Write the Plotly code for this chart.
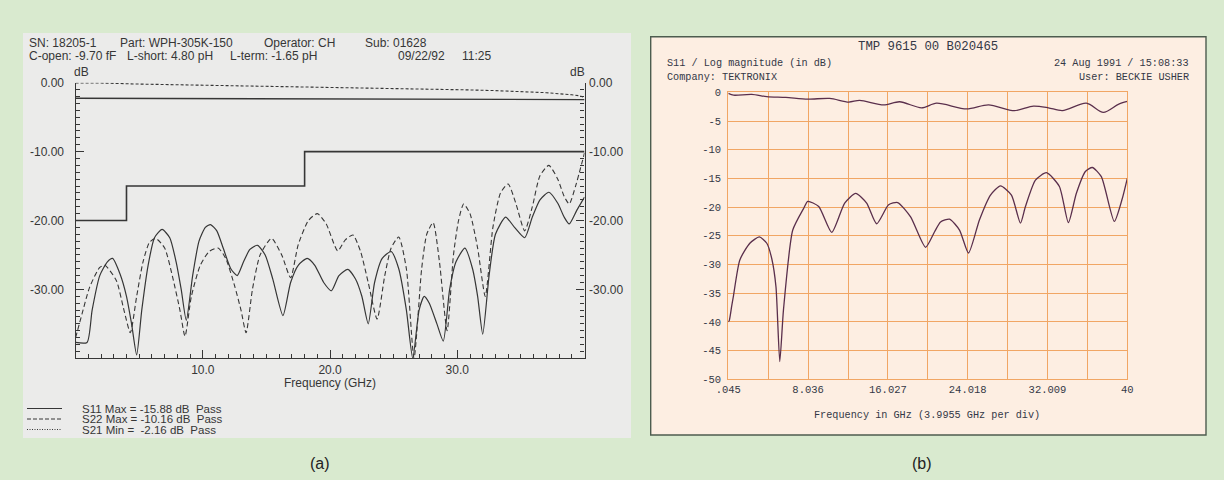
import plotly.graph_objects as go

W, H = 1224, 480

# ---------------- Panel (a) data ----------------
a_s11_freq = [0.0, 0.9, 1.3, 1.9, 2.5, 2.9, 3.5, 4.0, 4.4, 4.8, 5.2, 5.7, 6.2, 6.8, 7.4, 7.9, 8.3, 8.7,
              9.2, 9.7, 10.2, 10.6, 11.1, 11.6, 12.2, 12.7, 13.2, 13.7, 14.3, 14.9, 15.5, 16.3, 16.9,
              17.5, 18.2, 18.8, 19.5, 20.1, 20.7, 21.4, 22.0, 22.5, 23.0, 23.5, 24.1, 24.8, 25.4,
              26.0, 26.5, 27.0, 27.4, 27.8, 28.4, 28.9, 29.4, 29.9, 30.6, 31.2, 31.6, 32.0, 32.5,
              33.0, 33.8, 34.5, 35.3, 35.9, 36.5, 37.2, 37.9, 38.4, 38.8, 39.4, 40.0]
a_s11_db = [-37.7, -37.7, -33.0, -28.0, -26.0, -25.5, -27.8, -31.0, -35.0, -39.5, -33.0, -26.5, -22.5,
            -21.3, -22.5, -26.0, -30.0, -34.5, -28.0, -23.0, -21.0, -20.6, -21.5, -24.0, -27.0, -28.0,
            -26.0, -24.2, -23.6, -25.0, -28.5, -33.8, -29.0, -26.5, -25.5, -26.5, -29.0, -30.2, -28.0,
            -27.1, -28.5, -31.0, -35.0, -29.0, -25.5, -24.5, -27.0, -33.0, -40.0, -33.0, -31.0, -32.0,
            -35.0, -37.5, -30.0, -26.0, -24.0, -27.0, -31.0, -36.5, -28.0, -22.0, -19.5, -21.0, -22.5,
            -19.5, -17.0, -15.9, -17.5, -19.5, -20.5, -18.5, -16.6]

a_s22_freq = [0.0, 0.5, 1.1, 1.9, 2.3, 3.2, 3.8, 4.3, 4.8, 5.3, 5.8, 6.3, 7.0, 7.6, 8.2, 8.6, 9.1, 9.8,
              10.5, 11.2, 11.8, 12.5, 13.0, 13.4, 13.9, 14.5, 15.4, 16.2, 16.9, 17.5, 18.3, 19.0, 19.7,
              20.6, 21.2, 21.8, 22.4, 23.0, 23.7, 24.3, 24.8, 25.4, 26.0, 26.6, 27.2, 27.6, 28.1, 28.6,
              29.2, 29.7, 30.1, 30.5, 31.0, 31.6, 32.2, 32.8, 33.4, 34.0, 34.6, 35.3, 35.9, 36.5, 37.2,
              37.9, 38.4, 38.8, 39.3, 40.0]
a_s22_db = [-37.0, -33.6, -29.7, -26.8, -26.5, -28.7, -33.0, -36.3, -31.0, -26.0, -23.2, -22.6, -24.0,
            -28.0, -33.0, -36.8, -31.0, -26.5, -24.5, -24.0, -25.5, -29.5, -33.0, -36.3, -30.0, -25.0,
            -22.6, -25.0, -28.3, -23.5, -20.0, -19.0, -20.5, -24.4, -22.8, -22.1, -24.5, -29.0, -34.3,
            -28.0, -24.0, -22.4, -27.0, -40.0, -27.0, -22.0, -20.3, -26.0, -36.0, -25.0, -20.0, -17.6,
            -19.0, -24.0, -31.0, -21.0, -16.0, -14.7, -17.5, -21.5, -18.0, -13.5, -12.0, -14.0, -16.5,
            -17.6, -15.0, -10.2]

a_s21_freq = [0.0, 2.0, 5.0, 10.0, 15.0, 20.0, 24.0, 28.0, 31.0, 33.0, 35.0, 37.0, 39.0, 39.6, 40.0]
a_s21_db = [-0.05, -0.05, -0.2, -0.35, -0.5, -0.65, -0.8, -0.95, -1.05, -1.15, -1.25, -1.45, -1.75,
            -1.9, -2.16]

a_mask_freq = [0, 4, 18, 40]
a_mask_db = [-20, -15, -10, -10]
a_s21_mask_freq = [0, 40]
a_s21_mask_db = [-2.25, -2.45]

a_xtick_vals = [10, 20, 30]
a_xtick_text = ["10.0", "20.0", "30.0"]
a_ytick_vals = [0, -10, -20, -30]
a_ytick_text = ["0.00", "-10.00", "-20.00", "-30.00"]

a_header_1 = ["SN: 18205-1", "Part: WPH-305K-150", "Operator: CH", "Sub: 01628"]
a_header_2 = ["C-open: -9.70 fF", "L-short: 4.80 pH", "L-term: -1.65 pH", "09/22/92", "11:25"]
a_legend = ["S11 Max = -15.88 dB  Pass", "S22 Max = -10.16 dB  Pass", "S21 Min =  -2.16 dB  Pass"]
a_legend_dash = ["solid", "4px,2px", "1px,1.5px"]

# ---------------- Panel (b) data ----------------
b_top_freq = [0.045, 0.58, 2.4, 3.9, 5.8, 8.0, 10.2, 12.1, 13.2, 15.6, 17.2, 19.4, 20.9, 23.9, 26.1,
              28.7, 30.6, 32.1, 33.5, 35.9, 37.6, 39.1, 40.0]
b_top_db = [-0.2, -0.5, -0.35, -0.76, -0.9, -1.2, -1.06, -1.7, -1.4, -2.2, -1.65, -2.7, -1.9, -2.9,
            -2.2, -3.2, -2.4, -2.7, -3.2, -1.9, -3.5, -2.1, -1.6]

b_s11_freq = [0.045, 0.15, 0.38, 0.55, 1.2, 2.2, 3.15, 3.9, 4.4, 4.82, 5.2, 5.57, 6.5, 7.6, 8.0, 9.1,
              10.4, 11.7, 12.8, 13.9, 14.9, 16.1, 17.0, 18.3, 19.8, 20.7, 21.3, 22.2, 23.2, 24.1, 25.2,
              26.3, 27.3, 28.4, 29.3, 29.8, 30.8, 31.9, 33.2, 34.1, 34.9, 35.8, 36.5, 37.4, 38.7,
              39.5, 40.0]
b_s11_db = [-40.0, -39.7, -37.3, -35.6, -29.2, -26.3, -25.2, -26.3, -29.0, -33.9, -46.9, -37.9, -24.0,
            -20.2, -19.0, -19.9, -24.4, -19.3, -17.6, -19.3, -22.9, -19.6, -19.2, -21.7, -27.0, -24.3,
            -22.6, -22.1, -24.0, -28.0, -22.2, -17.9, -16.3, -17.9, -22.8, -19.9, -15.3, -14.0, -16.4,
            -22.7, -17.6, -13.8, -13.1, -14.7, -22.5, -18.5, -15.0]

b_xtick_vals = [0.045, 8.036, 16.027, 24.018, 32.009, 40]
b_xtick_text = [".045", "8.036", "16.027", "24.018", "32.009", "40"]
b_ytick_vals = [0, -5, -10, -15, -20, -25, -30, -35, -40, -45, -50]
b_ytick_text = ["0", "-5", "-10", "-15", "-20", "-25", "-30", "-35", "-40", "-45", "-50"]

# ---------------- styling ----------------
GREEN = "#d9eacf"
GREY_PANEL = "#ebebea"
PEACH = "#fdeee2"
ORANGE = "#f1a664"
INK_A = "#363636"
INK_B = "#343846"
PURPLE = "#5a2f4c"
SANS_A = "Liberation Sans"
MONO_B = "Liberation Mono"


def px(x):
    return x / W


def py(y):
    return 1 - y / H


def nb(s):
    return s.replace(" ", "\u00a0")


fig = go.Figure()

# panel (a) traces
fig.add_trace(go.Scatter(x=a_mask_freq, y=a_mask_db, mode="lines", xaxis="x", yaxis="y",
                         line=dict(shape="hv", color=INK_A, width=1.6), hoverinfo="skip"))
fig.add_trace(go.Scatter(x=a_s21_mask_freq, y=a_s21_mask_db, mode="lines", xaxis="x", yaxis="y3",
                         line=dict(color=INK_A, width=1.4), hoverinfo="skip"))
fig.add_trace(go.Scatter(x=a_s21_freq, y=a_s21_db, mode="lines", xaxis="x", yaxis="y",
                         line=dict(color=INK_A, width=1.1, dash="3px,2px"), hoverinfo="skip"))
fig.add_trace(go.Scatter(x=a_s11_freq, y=a_s11_db, mode="lines", xaxis="x", yaxis="y",
                         line=dict(color=INK_A, width=1.2, shape="spline", smoothing=0.6), hoverinfo="skip"))
fig.add_trace(go.Scatter(x=a_s22_freq, y=a_s22_db, mode="lines", xaxis="x", yaxis="y",
                         line=dict(color=INK_A, width=1.1, dash="5px,3px", shape="spline", smoothing=0.6),
                         hoverinfo="skip"))

# panel (b) traces
fig.add_trace(go.Scatter(x=b_top_freq, y=b_top_db, mode="lines", xaxis="x2", yaxis="y2",
                         line=dict(color=PURPLE, width=1.3, shape="spline", smoothing=0.8), hoverinfo="skip"))
fig.add_trace(go.Scatter(x=b_s11_freq, y=b_s11_db, mode="lines", xaxis="x2", yaxis="y2",
                         line=dict(color=PURPLE, width=1.3, shape="spline", smoothing=0.6), hoverinfo="skip"))

a_xdom = [px(75.6), px(584.5)]
a_ydom = [py(358.3), py(82.7)]
b_xdom = [px(728.3), px(1127.3)]
b_ydom = [py(379.3), py(92.3)]

a_tickfont = dict(family=SANS_A, size=12, color=INK_A)
a_minor = dict(tickmode="linear", tick0=0, dtick=1, ticks="inside", ticklen=4, tickcolor=INK_A, tickwidth=1)

fig.update_layout(
    width=W, height=H, margin=dict(l=0, r=0, t=0, b=0),
    paper_bgcolor=GREEN, plot_bgcolor="rgba(0,0,0,0)", showlegend=False,
    xaxis=dict(domain=a_xdom, range=[0, 40], anchor="y", showgrid=False, zeroline=False,
               showline=True, linecolor=INK_A, linewidth=1.3, automargin=False,
               tickmode="array", tickvals=a_xtick_vals, ticktext=a_xtick_text,
               ticks="inside", ticklen=8, tickcolor=INK_A, tickwidth=1, tickfont=a_tickfont,
               minor=a_minor),
    yaxis=dict(domain=a_ydom, range=[-40, 0], anchor="x", showgrid=False, zeroline=False,
               showline=True, linecolor=INK_A, linewidth=1.3, automargin=False,
               tickmode="array", tickvals=a_ytick_vals, ticktext=a_ytick_text,
               ticks="inside", ticklen=8, tickcolor=INK_A, tickwidth=1, tickfont=a_tickfont,
               ticklabelstandoff=8, minor=a_minor),
    yaxis3=dict(overlaying="y", side="right", anchor="x", range=[-40, 0], showgrid=False, zeroline=False,
                showline=True, linecolor=INK_A, linewidth=1.3, automargin=False,
                tickmode="array", tickvals=a_ytick_vals, ticktext=a_ytick_text,
                ticks="inside", ticklen=8, tickcolor=INK_A, tickwidth=1, tickfont=a_tickfont,
                ticklabelstandoff=1, minor=a_minor),
    xaxis2=dict(domain=b_xdom, range=[0.045, 40], anchor="y2", zeroline=False, automargin=False,
                showgrid=True, gridcolor=ORANGE, gridwidth=1,
                showline=True, mirror=True, linecolor=ORANGE, linewidth=1.2,
                tickmode="array", tickvals=b_xtick_vals, ticktext=b_xtick_text, ticks="",
                tickfont=dict(family=MONO_B, size=10.5, color=INK_B),
                minor=dict(tickmode="linear", tick0=0.045, dtick=3.9955, showgrid=True,
                           gridcolor=ORANGE, gridwidth=1, ticks="")),
    yaxis2=dict(domain=b_ydom, range=[-50, 0], anchor="x2", zeroline=False, automargin=False,
                showgrid=True, gridcolor=ORANGE, gridwidth=1,
                showline=True, mirror=True, linecolor=ORANGE, linewidth=1.2,
                tickmode="array", tickvals=b_ytick_vals, ticktext=b_ytick_text, ticks="",
                ticklabelstandoff=4,
                tickfont=dict(family=MONO_B, size=10.5, color=INK_B)),
)

shapes = [
    dict(type="rect", xref="paper", yref="paper", x0=px(23), x1=px(631), y0=py(438), y1=py(33),
         fillcolor=GREY_PANEL, line=dict(width=0), layer="below"),
    dict(type="rect", xref="paper", yref="paper", x0=px(650.7), x1=px(1206), y0=py(435), y1=py(36.7),
         fillcolor=PEACH, line=dict(width=1.4, color="#4d5c4f"), layer="below"),
]
legend_y = [408.5, 419.0, 429.5]
for yy, dash in zip(legend_y, a_legend_dash):
    shapes.append(dict(type="line", xref="paper", yref="paper", x0=px(27), x1=px(62), y0=py(yy), y1=py(yy),
                       line=dict(color=INK_A, width=1, dash=dash)))
fig.update_layout(shapes=shapes)

annotations = []


def ann(text, x, y, size, family, color, xanchor="left"):
    annotations.append(dict(text=nb(text), x=px(x), y=py(y), xref="paper", yref="paper",
                            xanchor=xanchor, yanchor="middle", showarrow=False,
                            font=dict(family=family, size=size, color=color)))


for txt, x in zip(a_header_1, [27, 118, 262, 363]):
    ann(txt, x, 43.5, 12, SANS_A, INK_A)
for txt, x in zip(a_header_2, [27, 125, 228, 396, 460]):
    ann(txt, x, 56.5, 12, SANS_A, INK_A)
ann("dB", 81, 72, 12, SANS_A, INK_A, "center")
ann("dB", 577, 72, 12, SANS_A, INK_A, "center")
ann("Frequency (GHz)", 330, 383, 12, SANS_A, INK_A, "center")
for yy, txt in zip(legend_y, a_legend):
    ann(txt, 80, yy, 11.5, SANS_A, INK_A)

ann("TMP 9615 00 B020465", 928, 47, 12.3, MONO_B, INK_B, "center")
ann("S11 / Log magnitude (in dB)", 665, 63.5, 10.2, MONO_B, INK_B)
ann("Company: TEKTRONIX", 665, 77, 10.2, MONO_B, INK_B)
ann("24 Aug 1991 / 15:08:33", 1191, 63.5, 10.2, MONO_B, INK_B, "right")
ann("User: BECKIE USHER", 1191, 77, 10.2, MONO_B, INK_B, "right")
ann("Frequency in GHz (3.9955 GHz per div)", 927, 415, 10.2, MONO_B, INK_B, "center")

ann("(a)", 320, 463, 16, "Liberation Sans", "#222222", "center")
ann("(b)", 922, 463, 16, "Liberation Sans", "#222222", "center")

fig.update_layout(annotations=annotations)

fig.write_html("out.html", config={"displayModeBar": False},
               post_script="document.body.style.margin='0px';")
